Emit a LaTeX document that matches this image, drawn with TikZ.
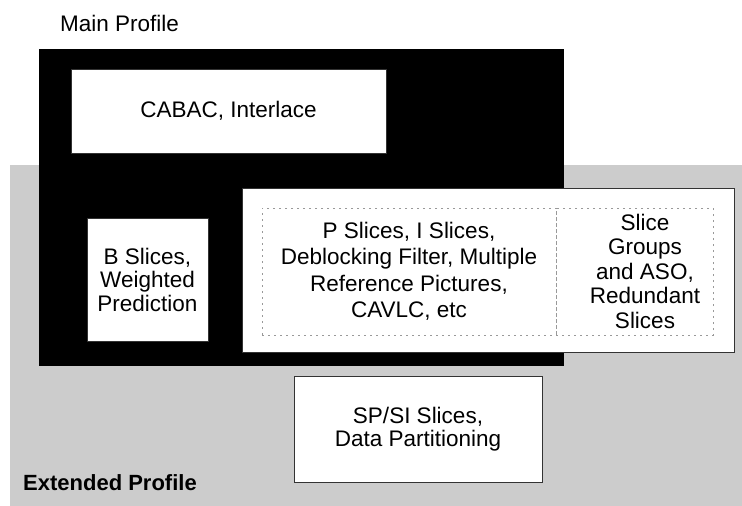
\documentclass[tikz,border=0pt]{standalone}
\usepackage{fontspec}
\setmainfont{Liberation Sans}
\usetikzlibrary{positioning}

\begin{document}
\begin{tikzpicture}[x=1pt, y=-1pt,
  lbl/.style={font=\fontsize{22.5}{25}\selectfont, align=center, inner sep=0pt},
  whitebox/.style={fill=white, draw=black!80, line width=0.6pt, anchor=north west, inner sep=0pt, outer sep=0pt},
  dashbox/.style={draw=black!40, dash pattern=on 2pt off 4pt, line width=0.6pt, anchor=north west, inner sep=0pt, outer sep=0pt}]
  \useasboundingbox (0,0) rectangle (742,506);
  \fill[black!20] (10,165) rectangle (742,506);
  \fill[black] (39,49) rectangle (564,366);
  \node[lbl, anchor=west] (mainlbl) at (60,23) {Main Profile};
  \node[lbl, anchor=west, font=\bfseries\fontsize{22}{25}\selectfont] (extlbl) at (23,483) {Extended Profile};
  \node[whitebox, minimum width=315, minimum height=84] (cabac) at (71,69) {};
  \node[lbl] at (cabac.center) {CABAC, Interlace};
  \node[whitebox, minimum width=121, minimum height=123] (bslice) at (87,218) {};
  \node[lbl, font=\fontsize{22.5}{23.5}\selectfont] at (bslice.center) {B Slices,\\Weighted\\Prediction};
  \node[whitebox, minimum width=492, minimum height=164] (base) at (242,188) {};
  \node[dashbox, minimum width=294, minimum height=127] (pslice) at (262,208) {};
  \node[lbl, font=\fontsize{22.5}{26.5}\selectfont] at (pslice.center) {P Slices, I Slices,\\Deblocking Filter, Multiple\\Reference Pictures,\\CAVLC, etc};
  \node[dashbox, minimum width=157, minimum height=127] (slicegrp) at (556,208) {};
  \node[lbl, font=\fontsize{22.5}{24.5}\selectfont] (slicetxt) at (645,271) {Slice\\Groups\\and ASO,\\Redundant\\Slices};
  \node[whitebox, minimum width=248, minimum height=106] (spsi) at (294,376) {};
  \node[lbl, font=\fontsize{22.5}{23.5}\selectfont] at (spsi.center) {SP/SI Slices,\\Data Partitioning};
\end{tikzpicture}
\end{document}
